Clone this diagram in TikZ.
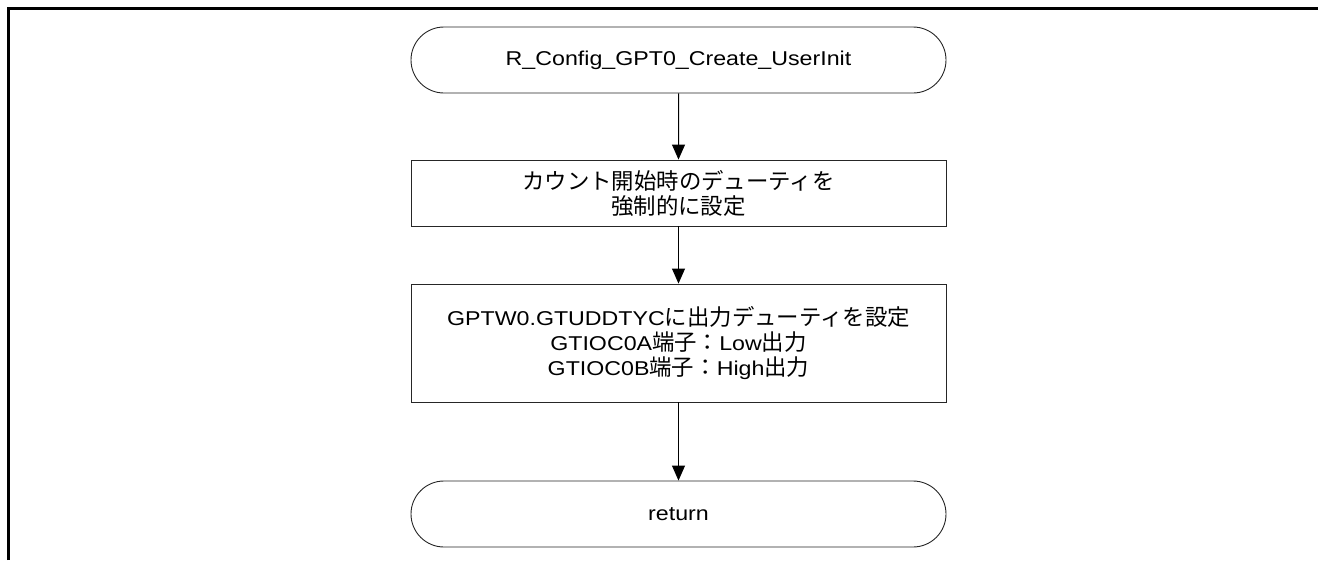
\documentclass[tikz,border=0pt]{standalone}
\usepackage{fontspec}
\setmainfont{Liberation Sans}[FakeStretch=1.16]
\newfontfamily\jpfont{Noto Sans CJK JP}[Scale=1.12]
\newcommand{\jp}[1]{{\jpfont #1}}
\usetikzlibrary{shapes.misc,arrows.meta}
\begin{document}
\begin{tikzpicture}[x=1pt,y=-1pt,
  every node/.style={font=\fontsize{20}{25}\selectfont, text=black},
  term/.style={draw=black!85, line width=0.9pt, rounded rectangle, minimum width=535pt, minimum height=66pt, inner sep=0pt},
  proc/.style={draw=black!85, line width=0.9pt, rectangle, minimum width=535pt, inner sep=0pt, align=center},
  flow/.style={draw=black, line width=1pt, -{Triangle[width=13pt,length=15pt]}}]
\useasboundingbox (0,0) rectangle (1318,560);
\draw[line width=2.6pt] (8.3,560) -- (8.3,8.3) -- (1318,8.3);
\node[term] (start) at (678.5,60) {R\_Config\_GPT0\_Create\_UserInit};
\node[proc, minimum height=66pt] (b1) at (678.5,193) {\jp{カウント開始時のデューティを}\\\jp{強制的に設定}};
\node[proc, minimum height=118pt] (b2) at (678.5,343) {GPTW0.GTUDDTYC\jp{に出力デューティを設定}\\GTIOC0A\jp{端子：}Low\jp{出力}\\GTIOC0B\jp{端子：}High\jp{出力}};
\node[term] (ret) at (678.5,514) {return};
\draw[flow] (start) -- (b1);
\draw[flow] (b1) -- (b2);
\draw[flow] (b2) -- (ret);
\end{tikzpicture}
\end{document}
